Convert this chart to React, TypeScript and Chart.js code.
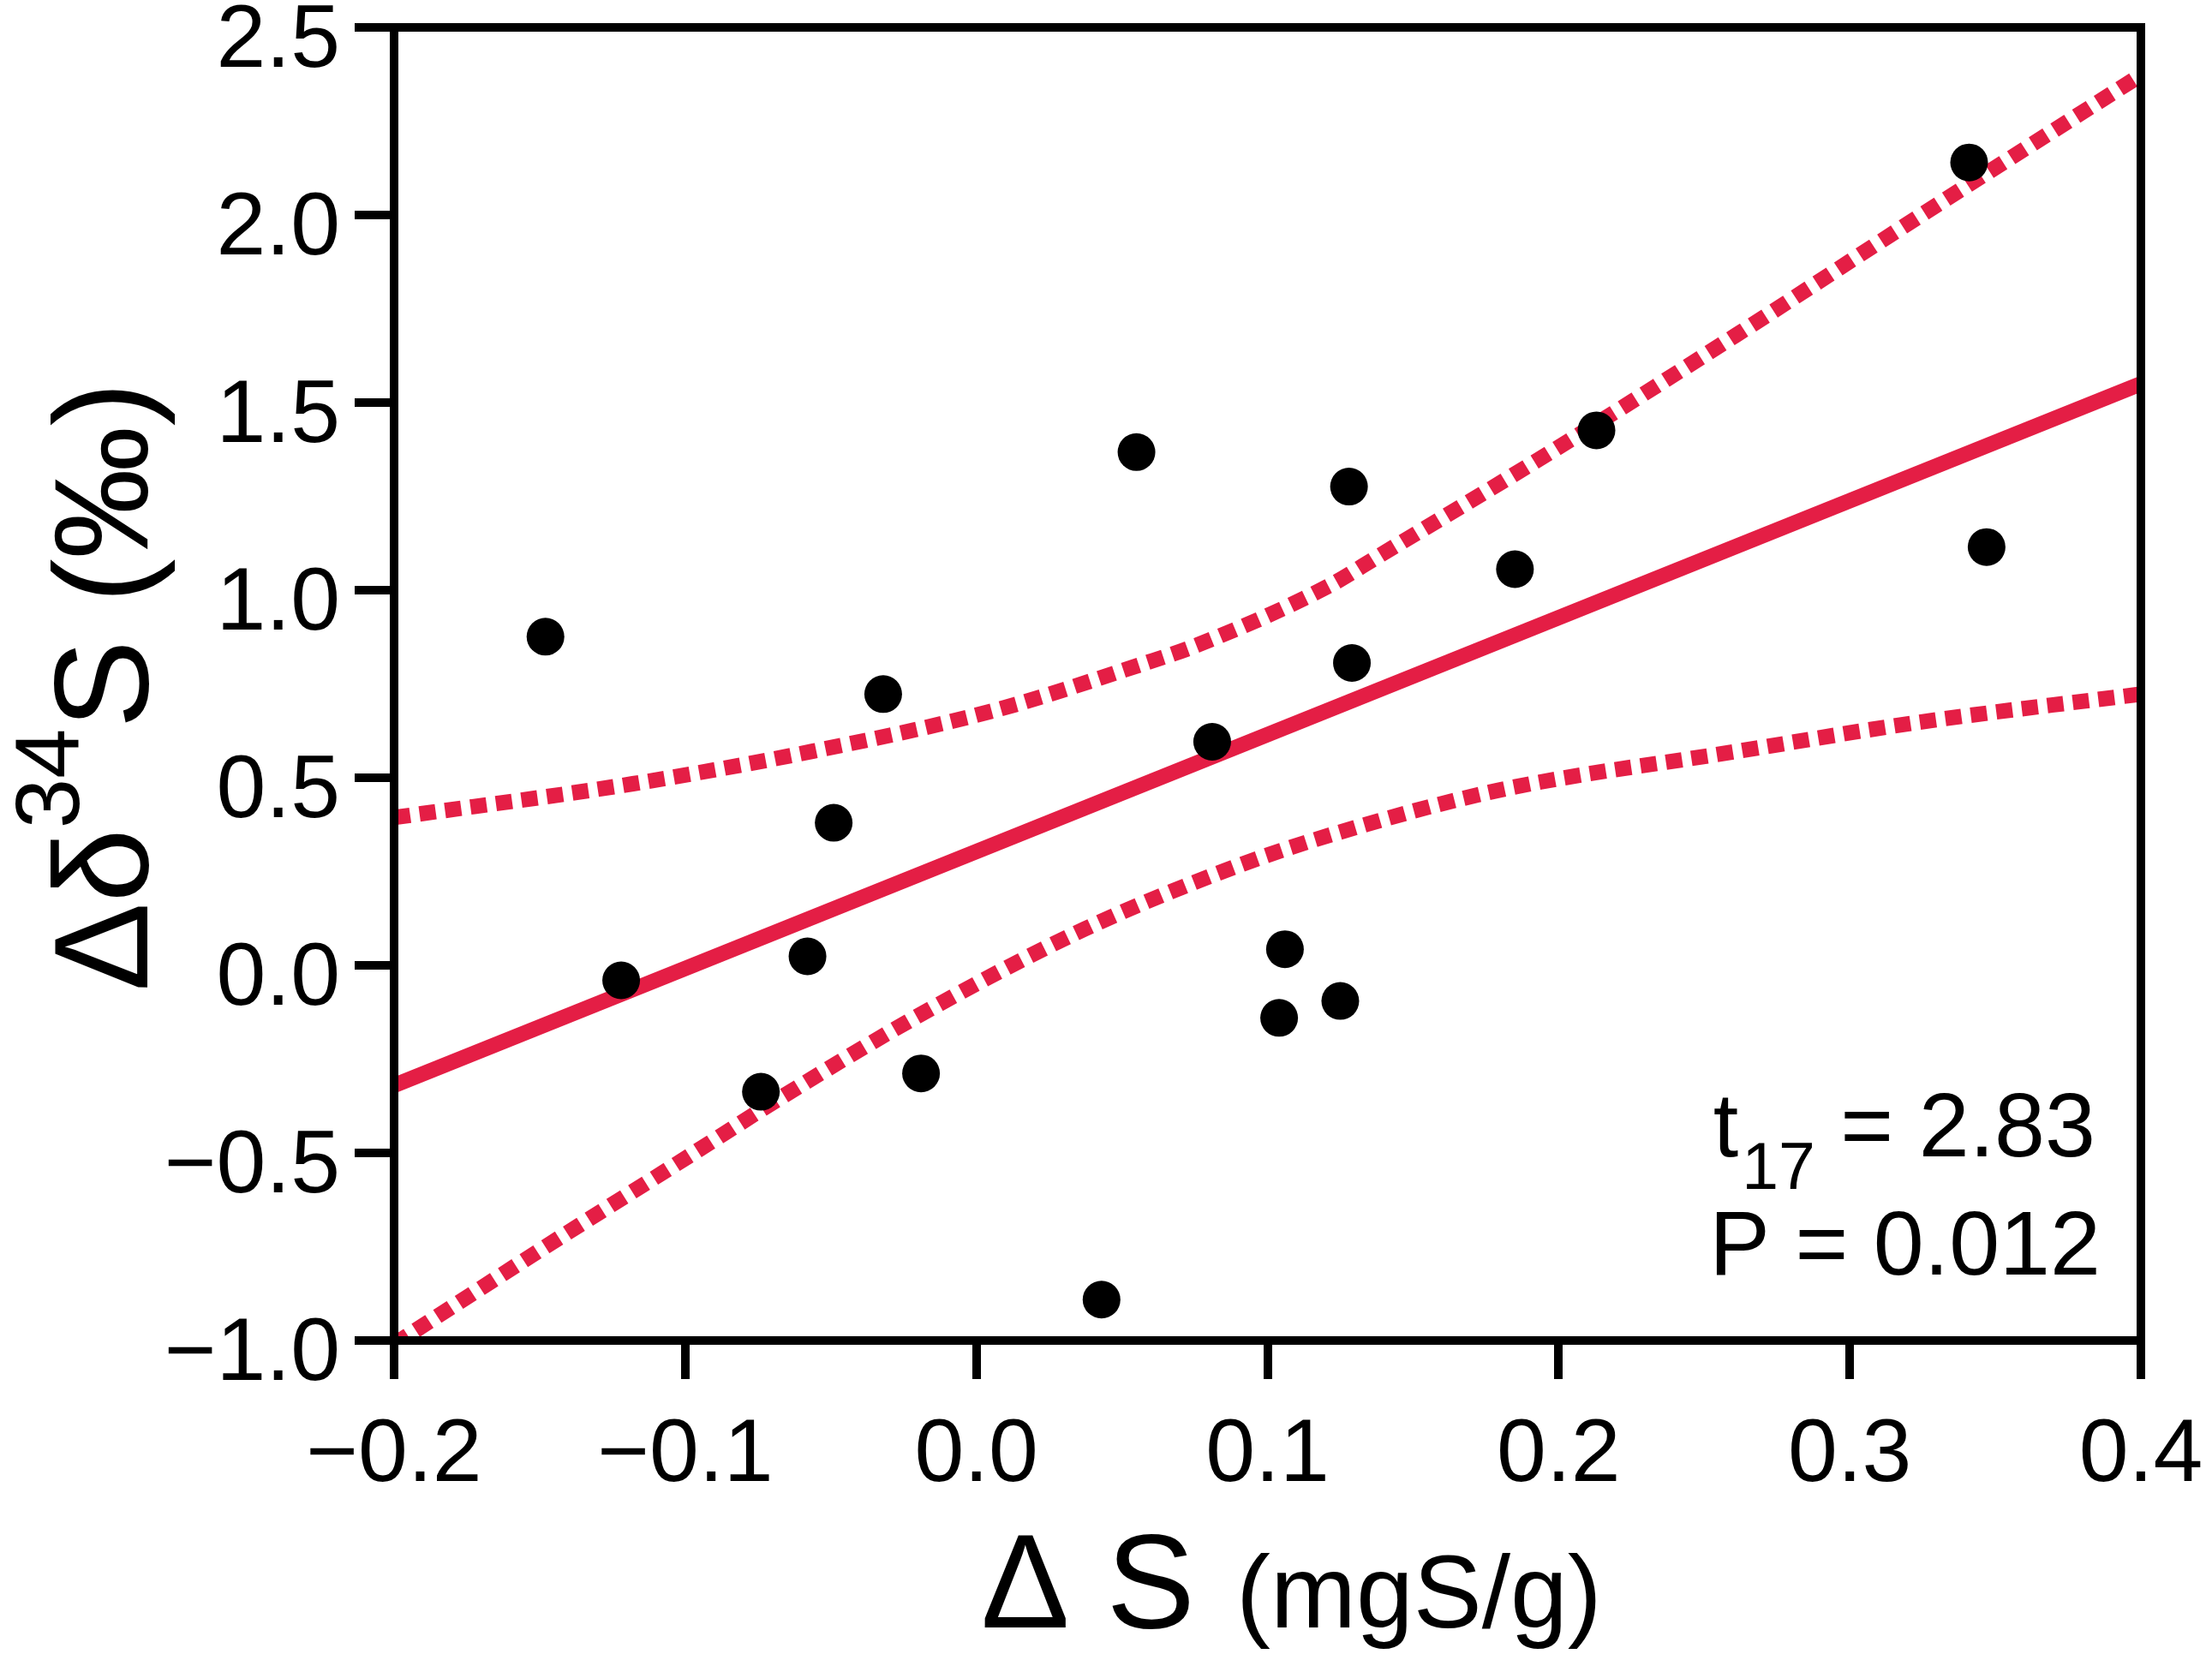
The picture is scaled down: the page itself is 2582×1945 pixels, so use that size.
import { useEffect, useRef } from "react";
import { Chart, registerables } from "chart.js";

Chart.register(...registerables);

// measured samples: change in S (mgS/g) vs change in d34S (permil)
const deltaS = [-0.148, -0.122, -0.074, -0.058, -0.049, -0.032, -0.019, 0.043, 0.055, 0.081, 0.104, 0.106, 0.125, 0.128, 0.129, 0.185, 0.213, 0.341, 0.347];
const deltaD34S = [0.876, -0.04, -0.337, 0.024, 0.38, 0.723, -0.288, -0.891, 1.368, 0.596, -0.14, 0.043, -0.095, 1.276, 0.806, 1.056, 1.426, 2.14, 1.115];

// regression line end points
const fitX = [-0.2, 0.4];
const fitY = [-0.32, 1.55];

// confidence band
const upperX = [-0.2, -0.118, -0.056, 0.006, 0.057, 0.076, 0.121, 0.138, 0.2, 0.261, 0.323, 0.4];
const upperY = [0.394, 0.484, 0.571, 0.679, 0.803, 0.854, 1.011, 1.09, 1.381, 1.68, 1.992, 2.373];
const lowerX = [-0.2, -0.148, -0.097, -0.066, -0.018, 0.037, 0.089, 0.121, 0.179, 0.261, 0.323, 0.4];
const lowerY = [-1.01, -0.75, -0.5, -0.347, -0.126, 0.096, 0.263, 0.346, 0.466, 0.57, 0.647, 0.723];

const xTicks = [-0.2, -0.1, 0.0, 0.1, 0.2, 0.3, 0.4];
const xTickLabels = ["\u22120.2", "\u22120.1", "0.0", "0.1", "0.2", "0.3", "0.4"];
const yTicks = [-1.0, -0.5, 0.0, 0.5, 1.0, 1.5, 2.0, 2.5];
const yTickLabels = ["\u22121.0", "\u22120.5", "0.0", "0.5", "1.0", "1.5", "2.0", "2.5"];

const RED = "#E41E45";
const FONT = "'Liberation Sans', Arial, sans-serif";

const pts = (xs: number[], ys: number[]) => xs.map((x, i) => ({ x, y: ys[i] }));

const framePlugin = {
  id: "frameAndTitles",
  afterDraw(chart: any) {
    const { ctx, chartArea: a } = chart;
    ctx.save();
    ctx.strokeStyle = "#000";
    ctx.lineWidth = 10;
    ctx.strokeRect(a.left, a.top, a.right - a.left, a.bottom - a.top);

    ctx.fillStyle = "#000";
    ctx.textBaseline = "alphabetic";
    ctx.textAlign = "left";

    // y title, rotated
    const big = `155px ${FONT}`;
    const sup = `105px ${FONT}`;
    ctx.font = big;
    const w1 = ctx.measureText("\u0394\u03b4").width;
    const w3 = ctx.measureText("S (\u2030)").width;
    ctx.font = sup;
    const w2 = ctx.measureText("34").width;
    const total = w1 + w2 + w3;
    ctx.save();
    ctx.translate(172, (a.top + a.bottom) / 2 + 3);
    ctx.rotate(-Math.PI / 2);
    let x = -total / 2;
    ctx.font = big;
    ctx.fillText("\u0394\u03b4", x, 0);
    x += w1;
    ctx.font = sup;
    ctx.fillText("34", x, -80);
    x += w2;
    ctx.font = big;
    ctx.fillText("S (\u2030)", x, 0);
    ctx.restore();

    // x title
    const xb = a.bottom + 335;
    ctx.font = big;
    ctx.fillText("\u0394 S", 1145, xb);
    const ws = ctx.measureText("\u0394 S").width;
    ctx.font = `120px ${FONT}`;
    ctx.fillText("(mgS/g)", 1145 + ws + 48, xb);

    // statistics
    const right = 2452;
    ctx.font = `106px ${FONT}`;
    ctx.textAlign = "right";
    ctx.fillText("P = 0.012", right, 1488);
    const rest = " = 2.83";
    const wr = ctx.measureText(rest).width;
    ctx.fillText(rest, right - 6, 1350);
    ctx.font = `77px ${FONT}`;
    const wsub = ctx.measureText("17").width;
    ctx.fillText("17", right - 6 - wr, 1388);
    ctx.font = `106px ${FONT}`;
    ctx.fillText("t", right - 6 - wr - wsub - 4, 1350);
    ctx.restore();
  },
};

export default function App() {
  const canvasRef = useRef<HTMLCanvasElement>(null);
  const chartRef = useRef<Chart | null>(null);

  useEffect(() => {
    if (!canvasRef.current) return;
    if (chartRef.current) chartRef.current.destroy();
    const ctx = canvasRef.current.getContext("2d");
    if (!ctx) return;

    const tickFont = { family: FONT, size: 104 };

    chartRef.current = new Chart(ctx, {
      type: "scatter",
      data: {
        datasets: [
          {
            label: "samples",
            data: pts(deltaS, deltaD34S),
            backgroundColor: "#000",
            borderWidth: 0,
            pointRadius: 22,
          },
          {
            label: "fit",
            data: pts(fitX, fitY),
            showLine: true,
            borderColor: RED,
            borderWidth: 18,
            pointRadius: 0,
          },
          {
            label: "upper 95%",
            data: pts(upperX, upperY),
            showLine: true,
            borderColor: RED,
            borderWidth: 18,
            borderDash: [19, 11],
            borderCapStyle: "butt",
            cubicInterpolationMode: "monotone",
            pointRadius: 0,
          },
          {
            label: "lower 95%",
            data: pts(lowerX, lowerY),
            showLine: true,
            borderColor: RED,
            borderWidth: 18,
            borderDash: [19, 11],
            borderCapStyle: "butt",
            cubicInterpolationMode: "monotone",
            pointRadius: 0,
          },
        ],
      } as any,
      options: {
        animation: false,
        responsive: true,
        maintainAspectRatio: false,
        layout: { padding: { left: 0, top: 32, right: 83, bottom: 0 } },
        plugins: { legend: { display: false }, tooltip: { enabled: false } },
        scales: {
          x: {
            type: "linear",
            min: -0.2,
            max: 0.4,
            afterBuildTicks: (s: any) => {
              s.ticks = xTicks.map((v) => ({ value: v }));
            },
            afterFit: (s: any) => {
              s.height = 380;
              s.paddingLeft = 0;
              s.paddingRight = 0;
            },
            border: { display: false },
            grid: { drawOnChartArea: false, drawTicks: true, tickLength: 45, color: "#000", lineWidth: 10 },
            ticks: {
              color: "#000",
              font: tickFont,
              padding: 28,
              maxRotation: 0,
              autoSkip: false,
              callback: (_v: any, i: number) => xTickLabels[i],
            },
          },
          y: {
            type: "linear",
            min: -1.0,
            max: 2.5,
            afterBuildTicks: (s: any) => {
              s.ticks = yTicks.map((v) => ({ value: v }));
            },
            afterFit: (s: any) => {
              s.width = 460;
              s.paddingTop = 0;
              s.paddingBottom = 0;
            },
            border: { display: false },
            grid: { drawOnChartArea: false, drawTicks: true, tickLength: 46, color: "#000", lineWidth: 10 },
            ticks: {
              color: "#000",
              font: tickFont,
              padding: 17,
              labelOffset: 17,
              autoSkip: false,
              callback: (_v: any, i: number) => yTickLabels[i],
            },
          },
        },
      },
      plugins: [framePlugin],
    });

    return () => {
      if (chartRef.current) {
        chartRef.current.destroy();
        chartRef.current = null;
      }
    };
  }, []);

  return (
    <div style={{ position: "absolute", left: 0, top: 0, width: 2582, height: 1945, background: "#fff" }}>
      <canvas ref={canvasRef} />
    </div>
  );
}
